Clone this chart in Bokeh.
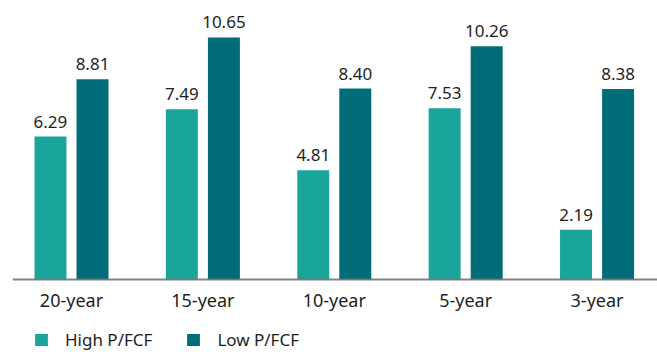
from bokeh.plotting import figure
from bokeh.models import ColumnDataSource, Range1d, LabelSet, Legend, LegendItem, Span
from bokeh.core.properties import value
from bokeh.transform import dodge
from bokeh.embed import file_html
from bokeh.resources import INLINE

categories = ["20-year", "15-year", "10-year", "5-year", "3-year"]
high_pfcf = [6.29, 7.49, 4.81, 7.53, 2.19]
low_pfcf = [8.81, 10.65, 8.40, 10.26, 8.38]

FONT = "Noto Sans"
TEAL = "#1aa59b"
DARK = "#006d79"
TXT = "#1e1e1e"

src = ColumnDataSource(dict(
    x=list(range(len(categories))), cat=categories, high=high_pfcf, low=low_pfcf,
    high_txt=[f"{v:.2f}" for v in high_pfcf],
    low_txt=[f"{v:.2f}" for v in low_pfcf],
))

p = figure(width=657, height=352,
           x_range=Range1d(-0.449, 4.46), y_range=Range1d(-3.212, 12.274),
           output_backend="svg", toolbar_location=None,
           min_border_left=12, min_border_right=0, min_border_top=0, min_border_bottom=0,
           x_axis_location=None, y_axis_location=None)
p.outline_line_color = None
p.grid.visible = False
p.background_fill_color = "white"
p.border_fill_color = "white"

off = 0.16
w = 0.2435
r1 = p.vbar(x=dodge("x", -off), top="high", width=w, source=src,
            fill_color=TEAL, line_color=None)
r2 = p.vbar(x=dodge("x", off), top="low", width=w, source=src,
            fill_color=DARK, line_color=None)

p.add_layout(Span(location=0, dimension="width", line_color="#6e6e6e",
                  line_alpha=0.85, line_width=2))

for col, txt, o in (("high", "high_txt", -off), ("low", "low_txt", off)):
    p.add_layout(LabelSet(x=dodge("x", o), y=col, text=txt, source=src,
                          text_align="center", text_baseline="alphabetic", y_offset=9,
                          text_font=value(FONT), text_font_size=value("17px"),
                          text_color=value(TXT)))

p.add_layout(LabelSet(x="x", y=0, text="cat", source=src, y_offset=-28,
                      text_align="center", text_baseline="alphabetic",
                      text_font=value(FONT), text_font_size=value("18px"),
                      text_color=value(TXT)))

legend = Legend(items=[LegendItem(label="High P/FCF", renderers=[r1]),
                       LegendItem(label="Low P/FCF", renderers=[r2])],
                orientation="horizontal", location=(21, 1),
                label_text_font=FONT, label_text_font_size="17px", label_text_color=TXT,
                glyph_width=16, glyph_height=15, label_standoff=16, spacing=33,
                label_height=20, padding=0, margin=0, border_line_color=None,
                background_fill_alpha=0)
p.add_layout(legend, "center")

open("out.html", "w").write(file_html(p, INLINE))
